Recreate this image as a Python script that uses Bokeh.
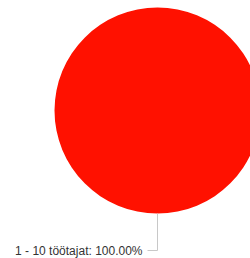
import math
from bokeh.plotting import figure
from bokeh.models import Range1d
from bokeh.core.properties import value
from bokeh.embed import file_html
from bokeh.resources import INLINE

# Data
categories = ["1 - 10 töötajat"]
values = [100.0]
colors = ["#ff1100"]

W, H = 250, 258
cx, cy, R = 157, 110, 103
label_y = 250
label_end_x = 142

total = sum(values)
starts, ends, mids = [], [], []
a = -math.pi / 2
for v in values:
    span = v / total * 2 * math.pi
    starts.append(a)
    ends.append(a + span)
    mids.append(a + span / 2)
    a += span

p = figure(width=W, height=H, output_backend="svg", toolbar_location=None,
           x_range=Range1d(0, W), y_range=Range1d(H, 0),
           min_border=0, outline_line_color=None)
p.axis.visible = False
p.grid.visible = False
p.background_fill_color = "white"
p.border_fill_color = "white"

if len(values) == 1:
    p.circle(x=[cx], y=[cy], radius=R, radius_units="screen",
             fill_color=colors[0], line_color=None)
else:
    p.wedge(x=cx, y=cy, radius=R, radius_units="screen",
            start_angle=starts, end_angle=ends,
            fill_color=colors, line_color="white")

for cat, v, m in zip(categories, values, mids):
    ex = cx + R * math.cos(m)
    ey = cy + R * math.sin(m)
    p.line(x=[ex, ex, label_end_x + 5], y=[ey, label_y, label_y],
           line_color="#c8c8c8", line_width=1)
    p.text(x=[label_end_x], y=[label_y], text=[f"{cat}: {v:.2f}%"],
           text_align="right", text_baseline="middle",
           text_font=value("Liberation Sans"), text_font_size="12px",
           text_color="#333333")

open("out.html", "w").write(file_html(p, INLINE))
